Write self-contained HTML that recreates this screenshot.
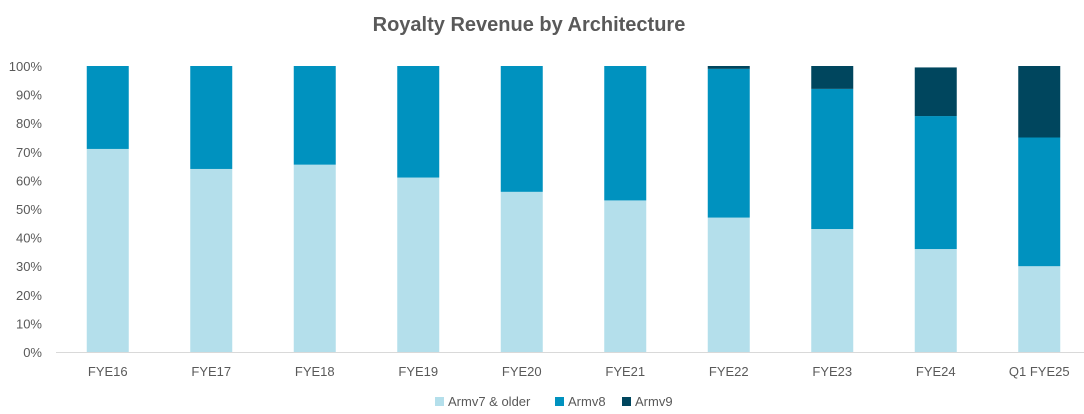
<!DOCTYPE html>
<html><head><meta charset="utf-8"><style>
body{margin:0;background:#fff;}
svg{display:block;font-family:"Liberation Sans",sans-serif;}
</style></head><body>
<svg id="chart" width="1084" height="414" viewBox="0 0 1084 414">
<text x="529" y="31" text-anchor="middle" font-size="20" font-weight="bold" fill="#595959">Royalty Revenue by Architecture</text>
<g id="grid"></g><g id="bars"></g><g id="xlabels"></g>
<g font-size="13" fill="#595959">
<rect x="435" y="397" width="9" height="9" fill="#b4dfeb"/>
<text x="448" y="406">Armv7 &amp; older</text>
<rect x="555" y="397" width="9" height="9" fill="#0092bf"/>
<text x="568" y="406">Armv8</text>
<rect x="622" y="397" width="9" height="9" fill="#00465e"/>
<text x="635" y="406">Armv9</text>
</g>
</svg>
<script>
const categories=["FYE16","FYE17","FYE18","FYE19","FYE20","FYE21","FYE22","FYE23","FYE24","Q1 FYE25"];
const armv7=[71,64,65.5,61,56,53,47,43,36,30];
const armv8=[29,36,34.5,39,44,47,52,49,46.5,45];
const armv9=[0,0,0,0,0,0,1,8,17,25];
const yTicks=[0,10,20,30,40,50,60,70,80,90,100];
const NS="http://www.w3.org/2000/svg";
const y0=352,y1=66,left=56,step=103.5,bw=42;
const y=v=>y0-(v/100)*(y0-y1);
const xc=i=>left+step*(i+0.5);
const grid=document.getElementById('grid'),bars=document.getElementById('bars'),xl=document.getElementById('xlabels');
yTicks.forEach(t=>{
 const tx=document.createElementNS(NS,'text');
 tx.setAttribute('x',42);tx.setAttribute('y',y(t)+5);tx.setAttribute('text-anchor','end');
 tx.setAttribute('font-size','13');tx.setAttribute('fill','#595959');tx.textContent=t+'%';
 
 
 grid.appendChild(tx);
});
const ax=document.createElementNS(NS,'line');
ax.setAttribute('x1',left);ax.setAttribute('x2',1084);ax.setAttribute('y1',y0+0.5);ax.setAttribute('y2',y0+0.5);
ax.setAttribute('stroke','#d9d9d9');


grid.appendChild(ax);
const series=[[armv7,'#b4dfeb','armv7'],[armv8,'#0092bf','armv8'],[armv9,'#00465e','armv9']];
categories.forEach((c,i)=>{
 let base=0;
 series.forEach(([vals,col,nm])=>{
  const v=vals[i];if(v<=0)return;
  const r=document.createElementNS(NS,'rect');
  r.setAttribute('x',xc(i)-bw/2);r.setAttribute('width',bw);
  r.setAttribute('y',y(base+v));r.setAttribute('height',y(base)-y(base+v));
  r.setAttribute('fill',col);
  
  
  bars.appendChild(r);base+=v;
 });
 const t=document.createElementNS(NS,'text');
 t.setAttribute('x',xc(i));t.setAttribute('y',376);t.setAttribute('text-anchor','middle');
 t.setAttribute('font-size','13');t.setAttribute('fill','#595959');t.textContent=c;
 
 
 xl.appendChild(t);
});
</script>
</body></html>
